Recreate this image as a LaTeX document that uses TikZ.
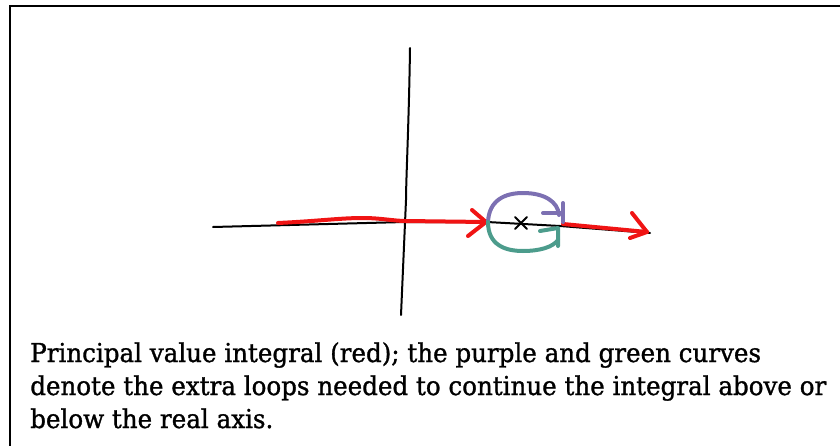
\documentclass[tikz,border=0pt]{standalone}
\usepackage{fontspec}
\setmainfont{DejaVu Serif}
\newfontfamily\capfont{DejaVu Serif}[FakeBold=1.2]
\usetikzlibrary{calc}
\definecolor{loopred}{RGB}{240,20,20}
\definecolor{looppurple}{RGB}{124,112,178}
\definecolor{loopgreen}{RGB}{76,156,140}
\tikzset{
  frameline/.style={line width=1.5pt, black},
  axisline/.style={line width=1.5pt, black, line cap=round, line join=round},
  redpath/.style={line width=3pt, loopred, line cap=round, line join=round},
  purplepath/.style={line width=3pt, looppurple, line cap=round, line join=round},
  greenpath/.style={line width=3pt, loopgreen, line cap=round, line join=round},
  polemark/.style={line width=1.4pt, black, line cap=round},
  txt/.style={inner sep=0pt, anchor=base west, font=\capfont\fontsize{19.5}{24}\selectfont}
}
\begin{document}
\newlength\lnwidth
\settowidth\lnwidth{\capfont\fontsize{19.5}{24}\selectfont denote the extra loops needed to continue the integral above or}
\pgfmathsetmacro\sxf{597/\lnwidth}
\begin{tikzpicture}[x=0.75pt,y=-0.75pt]
\useasboundingbox (0,0) rectangle (840,446);
% frame
\coordinate (fbl) at (10,446);
\coordinate (ftl) at (10,6);
\coordinate (ftr) at (841,6);
\draw[frameline] (fbl) -- (ftl) -- (ftr);
% axes
\coordinate (xl) at (213,227);
\coordinate (x1) at (405,222);
\coordinate (x2) at (487,222);
\coordinate (x3) at (560,226);
\coordinate (xr) at (650,233);
\draw[axisline] (xl) -- (x1) -- (x2) -- (x3) -- (xr);
\coordinate (yt) at (410,48);
\coordinate (ym) at (406,200);
\coordinate (yb) at (401,315);
\draw[axisline] (yt) .. controls (409,120) and (406,180) .. (ym) -- (yb);
% pole
\coordinate (pole) at (521,223);
\draw[polemark] ($(pole)+(-6,-6)$) -- ($(pole)+(6,6)$);
\draw[polemark] ($(pole)+(-6,6)$) -- ($(pole)+(6,-6)$);
% red principal value path
\coordinate (r0) at (278,223);
\coordinate (r1) at (363,218);
\coordinate (r2) at (405,221);
\coordinate (rt) at (486,222);
\coordinate (rau) at (472,210);
\coordinate (ral) at (468,236);
\draw[redpath] (r0) .. controls (320,221) and (340,218) .. (r1) .. controls (380,218) and (395,221) .. (r2) -- (rt);
\draw[redpath] (rau) -- (rt) -- (ral);
\coordinate (s0) at (563,224);
\coordinate (st) at (647,232);
\coordinate (sau) at (632,213);
\coordinate (sal) at (630,238);
\draw[redpath] (s0) -- (st);
\draw[redpath] (sau) -- (st) -- (sal);
% purple loop
\coordinate (p0) at (488,222);
\coordinate (pe) at (559,215);
\draw[purplepath] (p0) .. controls (489,200) and (505,193) .. (523,193) .. controls (545,193) and (558,202) .. (pe);
\coordinate (pa1) at (543,213);
\coordinate (pa2) at (561,213);
\coordinate (pv1) at (563,203);
\coordinate (pv2) at (563,222);
\draw[purplepath] (pa1) -- (pa2);
\draw[purplepath] (pv1) -- (pv2);
% green loop
\coordinate (g0) at (488,222);
\coordinate (ge) at (558,240);
\draw[greenpath] (g0) .. controls (488,245) and (505,251) .. (523,251) .. controls (540,251) and (553,247) .. (ge);
\coordinate (gt) at (558,228);
\coordinate (ga) at (540,231);
\coordinate (gb) at (558,246);
\draw[greenpath] (gb) -- (gt) -- (ga);
% caption
\node[txt] (l1) at (30,362) {\scalebox{\sxf}[1]{Principal value integral (red); the purple and green curves}};
\node[txt] (l2) at (30,395) {\scalebox{\sxf}[1]{denote the extra loops needed to continue the integral above or}};
\node[txt] (l3) at (30,428) {\scalebox{\sxf}[1]{below the real axis.}};
\end{tikzpicture}
\end{document}
